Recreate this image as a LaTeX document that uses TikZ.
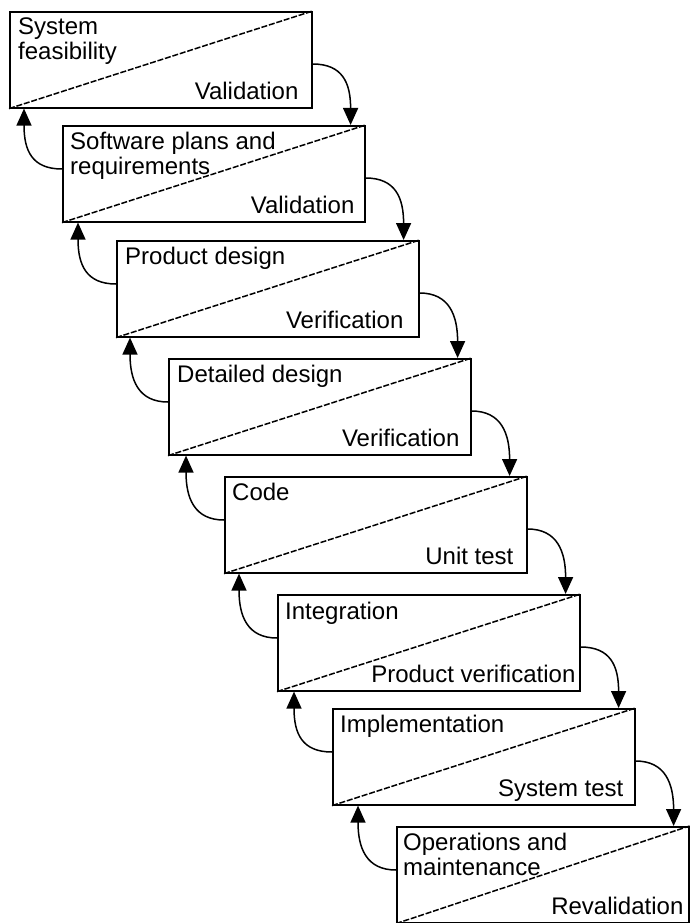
\documentclass[tikz,border=0pt]{standalone}
\usepackage{fontspec}
\setmainfont{Liberation Sans}
\usetikzlibrary{arrows.meta,calc}
\begin{document}
\begin{tikzpicture}[x=1pt,y=-1pt,
  stagebox/.style={draw=black, line width=1.6pt, rectangle, inner sep=0pt,
    minimum width=302pt, minimum height=96pt, anchor=north west},
  diag/.style={line width=1.5pt, dash pattern=on 6pt off 1.8pt},
  toptext/.style={anchor=north west, inner sep=0pt, align=left,
    font=\fontsize{24}{25}\selectfont},
  bottext/.style={anchor=base east, inner sep=0pt,
    font=\fontsize{24}{25}\selectfont},
  arr/.style={line width=1.5pt, -{Triangle[length=17pt,width=15pt]}}]
\useasboundingbox (0,0) rectangle (689,923);
% boxes
\node[stagebox] (b1) at (9,11) {};
\node[stagebox] (b2) at (62,125) {};
\node[stagebox] (b3) at (116,240) {};
\node[stagebox] (b4) at (168,358) {};
\node[stagebox] (b5) at (224,476) {};
\node[stagebox] (b6) at (277,594) {};
\node[stagebox] (b7) at (332,708) {};
\node[stagebox, minimum width=292pt] (b8) at (396,826) {};
% diagonals
\foreach \bx in {b1,b2,b3,b4,b5,b6,b7,b8}
  \draw[diag] (\bx.south west) -- (\bx.north east);
% top texts
\node[toptext] (t1) at ($(b1.north west)+(9,7)$) {System\\feasibility};
\node[toptext] (t2) at ($(b2.north west)+(8,7)$) {Software plans and\\requirements};
\node[toptext] (t3) at ($(b3.north west)+(9,7)$) {Product design};
\node[toptext] (t4) at ($(b4.north west)+(9,7)$) {Detailed design};
\node[toptext] (t5) at ($(b5.north west)+(8,7)$) {Code};
\node[toptext] (t6) at ($(b6.north west)+(8,8)$) {Integration};
\node[toptext] (t7) at ($(b7.north west)+(8,7)$) {Implementation};
\node[toptext] (t8) at ($(b8.north west)+(7,7)$) {Operations and\\maintenance};
% bottom texts
\node[bottext] (v1) at ($(b1.south east)+(-14,-9)$) {Validation};
\node[bottext] (v2) at ($(b2.south east)+(-11,-9)$) {Validation};
\node[bottext] (v3) at ($(b3.south east)+(-16,-9)$) {Verification};
\node[bottext] (v4) at ($(b4.south east)+(-12,-9)$) {Verification};
\node[bottext] (v5) at ($(b5.south east)+(-14,-9)$) {Unit test};
\node[bottext] (v6) at ($(b6.south east)+(-5,-9)$) {Product verification};
\node[bottext] (v7) at ($(b7.south east)+(-12,-9)$) {System test};
\node[bottext] (v8) at ($(b8.south east)+(-6,-9)$) {Revalidation};
% connectors
\foreach \ba/\bb in {b1/b2,b2/b3,b3/b4,b4/b5,b5/b6,b6/b7,b7/b8}{
  \draw[arr] let \p1=(\ba.north east), \p2=(\bb.north) in
    ($(\ba.north east)+(0,53)$) .. controls +(30,0) and +(0,-42) ..
    (\x1+38pt,\y2);
  \draw[arr] let \p1=(\bb.north west), \p2=(\ba.south) in
    ($(\bb.north west)+(0,44)$) .. controls +(-30,0) and +(0,42) ..
    (\x1-38pt,\y2);
}
\end{tikzpicture}
\end{document}
